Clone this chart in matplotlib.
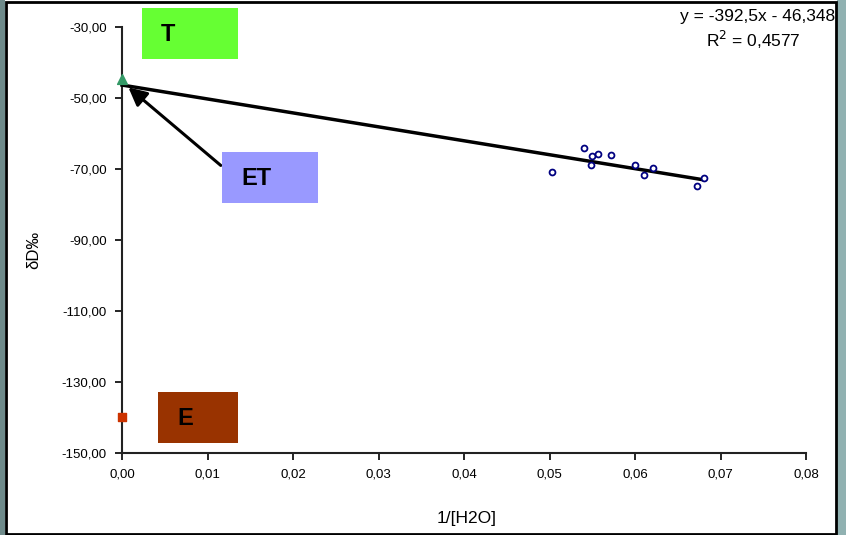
import matplotlib
matplotlib.use("Agg")
import matplotlib.pyplot as plt
import numpy as np
from matplotlib.patches import Rectangle

plt.rcParams['font.family'] = ['Liberation Sans', 'DejaVu Sans']

x_data = [0.0503, 0.0540, 0.0550, 0.0557, 0.0548, 0.0572, 0.0600, 0.0610, 0.0621, 0.0673, 0.0681]
y_data = [-70.8, -64.0, -66.2, -65.8, -69.0, -66.1, -68.9, -71.6, -69.7, -74.8, -72.4]
t_point = (0.0, -44.6)
e_point = (0.0, -140.0)
slope, intercept = -392.5, -46.348
x_ticks = [0.0, 0.01, 0.02, 0.03, 0.04, 0.05, 0.06, 0.07, 0.08]
y_ticks = [-150, -130, -110, -90, -70, -50, -30]

W, H = 846, 535
fig = plt.figure(figsize=(W/100, H/100), dpi=100)
fig.patch.set_facecolor('white')

# outer frame
fig.patches.append(Rectangle((0, 0), 5/W, 1, transform=fig.transFigure, facecolor='#6f8b8b', edgecolor='none', zorder=-10))
fig.patches.append(Rectangle((837/W, 0), 9/W, 1, transform=fig.transFigure, facecolor='#90b1b1', edgecolor='none', zorder=-10))
fig.patches.append(Rectangle((6/W, 1.5/H), 830/W, 532/H, transform=fig.transFigure, facecolor='white', edgecolor='black', linewidth=2, zorder=-9))

ax = fig.add_axes([122/W, (H-453)/H, (806-122)/W, (453-27)/H])
ax.set_zorder(1)
ax.set_facecolor('none')
ax.set_xlim(0, 0.08)
ax.set_ylim(-150, -30)
ax.spines['top'].set_visible(False)
ax.spines['right'].set_visible(False)
ax.spines['left'].set_linewidth(1.5)
ax.spines['bottom'].set_linewidth(1.5)
ax.spines['left'].set_color('#222222')
ax.spines['bottom'].set_color('#222222')
ax.set_xticks(x_ticks)
ax.set_yticks(y_ticks)
ax.set_xticklabels([f"{v:.2f}".replace('.', ',') for v in x_ticks], fontsize=9.5)
ax.set_yticklabels([f"{v:.2f}".replace('.', ',') for v in y_ticks], fontsize=9.5)
ax.tick_params(axis='x', direction='out', length=5, width=1.2, pad=6)
ax.tick_params(axis='y', direction='out', length=5, width=1.2, pad=6)

fig.text(467/W, 1-518/H, '1/[H2O]', fontsize=12.5, ha='center', va='center')
fig.text(34/W, 1-250/H, 'δD‰', fontsize=12, ha='center', va='center', rotation=90)

# trend line
xl = np.array([0.0, max(x_data)])
ax.plot(xl, slope*xl + intercept, color='black', linewidth=2.5, zorder=3, clip_on=False)

ax.scatter(x_data, y_data, s=18, facecolors='white', edgecolors='#000080', linewidths=1.3, zorder=4)
ax.scatter([t_point[0]], [t_point[1]], marker='^', s=50, color='#339966', zorder=5, clip_on=False)
ax.scatter([e_point[0]], [e_point[1]], marker='s', s=32, color='#cc3300', zorder=5, clip_on=False)

ax.annotate('', xy=(0.0005, -46.5), xytext=(0.0118, -69.5),
            arrowprops=dict(arrowstyle='-|>,head_length=1.1,head_width=0.55', color='black', lw=2.2), zorder=6)

def box(x0, y0, x1, y1, color, label, tx):
    fig.patches.append(Rectangle((x0/W, 1-y1/H), (x1-x0)/W, (y1-y0)/H, transform=fig.transFigure,
                                 facecolor=color, edgecolor='none', zorder=5))
    fig.text(tx/W, 1-((y0+y1)/2+1)/H, label, fontsize=17, fontweight='bold', ha='left', va='center', zorder=6)

box(142, 8, 238, 59, '#66ff33', 'T', 161)
box(222, 152, 318, 203, '#9999ff', 'ET', 241)
box(158, 392, 238, 443, '#993300', 'E', 177)

fig.text(835/W, 1-17/H, 'y = -392,5x - 46,348', fontsize=12.5, ha='right', va='center')
fig.text(801/W, 1-40/H, 'R$^2$ = 0,4577', fontsize=12.5, ha='right', va='center')

fig.savefig('out.png', dpi=100)
